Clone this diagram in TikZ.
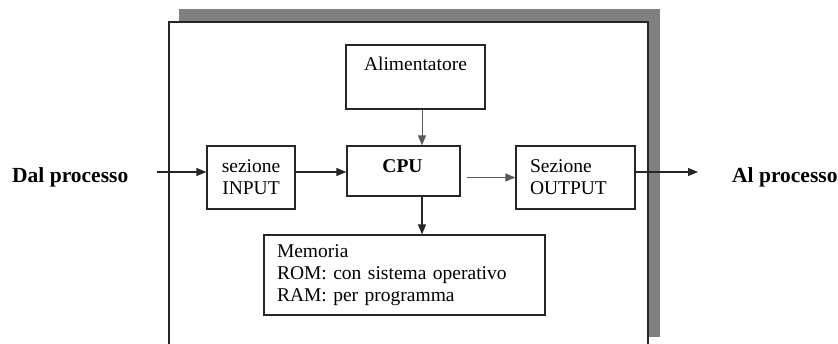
\documentclass[tikz,border=0pt]{standalone}
\usepackage{fontspec}
\setmainfont{Liberation Serif}
\usetikzlibrary{arrows.meta,calc}
\begin{document}
\begin{tikzpicture}[x=1pt,y=-1pt,
  every node/.style={font=\fontsize{19.5}{22}\selectfont, inner sep=0pt},
  boldtxt/.style={font=\fontsize{19.5}{22}\selectfont\bfseries},
  bigbold/.style={font=\fontsize{21.5}{24}\selectfont\bfseries},
  box/.style={draw=black!85, line width=1.3pt, fill=white},
  arr/.style={-{Triangle[length=10pt,width=8pt]}, line width=1.1pt, draw=black!85},
  thinarr/.style={arr, line width=0.9pt, draw=black!65}]
\useasboundingbox (0,0) rectangle (838,344);
% shadow and outer frame
\fill[black!50] (179,9) rectangle (660,337);
\draw[line width=1.6pt, draw=black!85, fill=white] (169,22) rectangle (648,352);
% blocks
\node[box, minimum width=139pt, minimum height=64pt] (alim) at (415.5,77) {};
\node[anchor=base] (alimt) at ($(alim.north)+(0,26)$) {Alimentatore};
\node[box, minimum width=113pt, minimum height=50pt] (cpu) at (403.5,171) {};
\node[anchor=base, boldtxt] (cput) at ($(cpu.north)+(-1,27)$) {CPU};
\node[box, minimum width=88pt, minimum height=63pt, align=center] (inp) at (251,177.5) {sezione\\INPUT};
\node[box, minimum width=119pt, minimum height=63pt, text width=91pt, align=left] (out) at (575.5,177.5) {Sezione\\OUTPUT};
\node[box, minimum width=281pt, minimum height=80pt, text width=255pt, align=left] (mem) at (404.5,275) {Memoria\\ROM: con sistema operativo\\RAM: per programma};
\node[anchor=base west, bigbold] (dal) at (12,183) {Dal processo};
\node[anchor=base west, bigbold] (al) at (732,183) {Al processo};
% connectors
\coordinate (dalend) at (157,172);
\coordinate (alend) at (698,172);
\coordinate (vx) at (422,0);
\coordinate (ce) at ([xshift=6pt]cpu.east);
\draw[arr] (dalend) -- (dalend -| inp.west);
\draw[arr] (inp.east |- dalend) -- (cpu.west |- dalend);
\draw[thinarr] (ce |- out.west) -- (out.west);
\draw[arr] (out.east |- alend) -- (alend);
\draw[thinarr] (alim.south -| vx) -- (cpu.north -| vx);
\draw[arr] (cpu.south -| vx) -- (mem.north -| vx);
\end{tikzpicture}
\end{document}
